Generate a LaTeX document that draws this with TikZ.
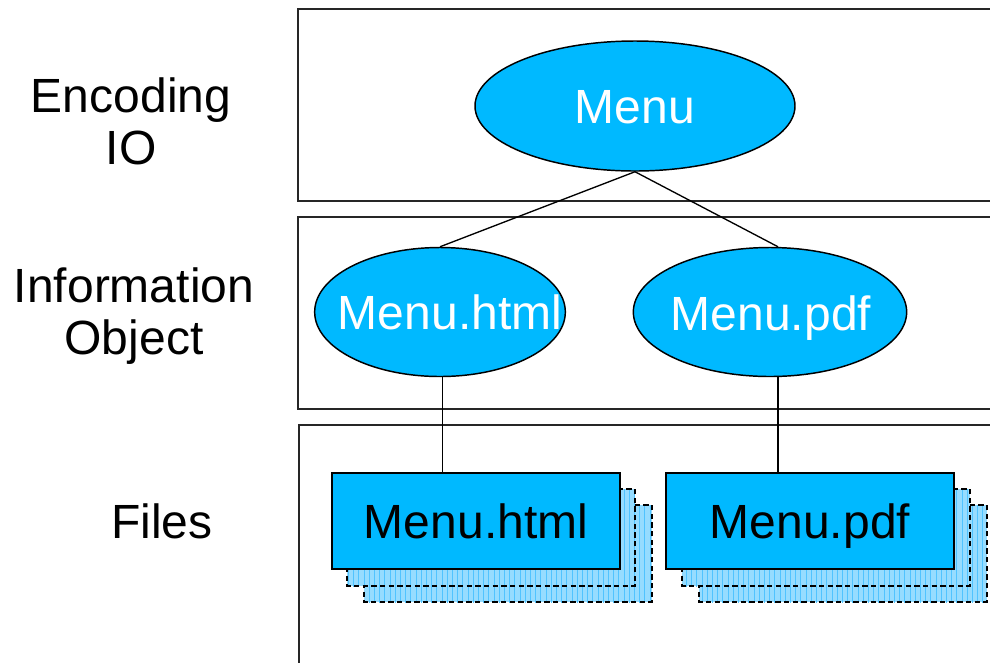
\documentclass[tikz,border=0pt]{standalone}
\usepackage{fontspec}
\setmainfont{Liberation Sans}
\usetikzlibrary{shapes.geometric}
\definecolor{skyb}{RGB}{0,185,255}
\definecolor{paleb}{RGB}{150,220,255}
\definecolor{gridb}{RGB}{80,195,255}
\begin{document}
\begin{tikzpicture}[x=0.75pt,y=-0.75pt,
 big/.style={font=\fontsize{36}{38.5}\selectfont},
 lbl/.style={big,anchor=base,inner sep=0pt},
 wlbl/.style={lbl,text=white},
 layer/.style={draw=black!85,line width=1.2pt},
 oval/.style={ellipse,draw,line width=1.1pt,fill=skyb,inner sep=0pt},
 filebox/.style={draw,line width=1.1pt,fill=skyb,inner sep=0pt,minimum width=216pt,minimum height=72pt},
 ghostbox/.style={draw,dash pattern=on 4pt off 2.5pt,line width=1.3pt},
 link/.style={line width=1pt}]
\useasboundingbox (0,0) rectangle (990,662);
\clip (0,0) rectangle (990,662);
% layers
\draw[layer] (298,9) rectangle (1000,201);
\draw[layer] (298,217) rectangle (1000,409);
\draw[layer] (299,425) rectangle (1000,680);
% row labels
\node[lbl,align=center] (lenc) at (131,164) {Encoding\\IO};
\node[lbl,align=center] (linf) at (134,354) {Information\\Object};
\node[lbl] (lfil) at (162,538) {Files};
% ellipses
\node[oval,minimum width=240pt,minimum height=97.5pt] (menu) at (635,106) {};
\node[wlbl] (menut) at (635,123) {Menu};
\node[oval,minimum width=188pt,minimum height=96.75pt] (mh) at (440,312) {};
\node[wlbl] (mht) at (450,329) {Menu.html};
\node[oval,minimum width=205pt,minimum height=96.75pt] (mp) at (770,312) {};
\node[wlbl] (mpt) at (771,330) {Menu.pdf};
% ghost stacked files
\foreach \x/\y in {364/505,347/489,699/505,682/489} {
  \fill[paleb] (\x,\y) rectangle ++(288,97);
  \begin{scope}
    \clip (\x,\y) rectangle ++(288,97);
    \draw[gridb,line width=0.5pt,step=5.2] (\x,\y) grid ++(292,100);
  \end{scope}
  \draw[ghostbox] (\x,\y) rectangle ++(288,97);
}
% files
\node[filebox] (fh) at (476,521) {};
\node[lbl] (fht) at (476,538) {Menu.html};
\node[filebox] (fp) at (810,521) {};
\node[lbl] (fpt) at (810,538) {Menu.pdf};
% connectors
\coordinate (mptop) at ([xshift=6pt]mp.north);
\coordinate (mpbot) at ([xshift=6pt]mp.south);
\coordinate (mhbot) at ([xshift=2pt]mh.south);
\draw[link] (menu.south) -- (mh.north);
\draw[link] (menu.south) -- (mptop);
\draw[link] (mhbot) -- (mhbot |- fh.north);
\draw[link] (mpbot) -- (mpbot |- fp.north);
\end{tikzpicture}
\end{document}
